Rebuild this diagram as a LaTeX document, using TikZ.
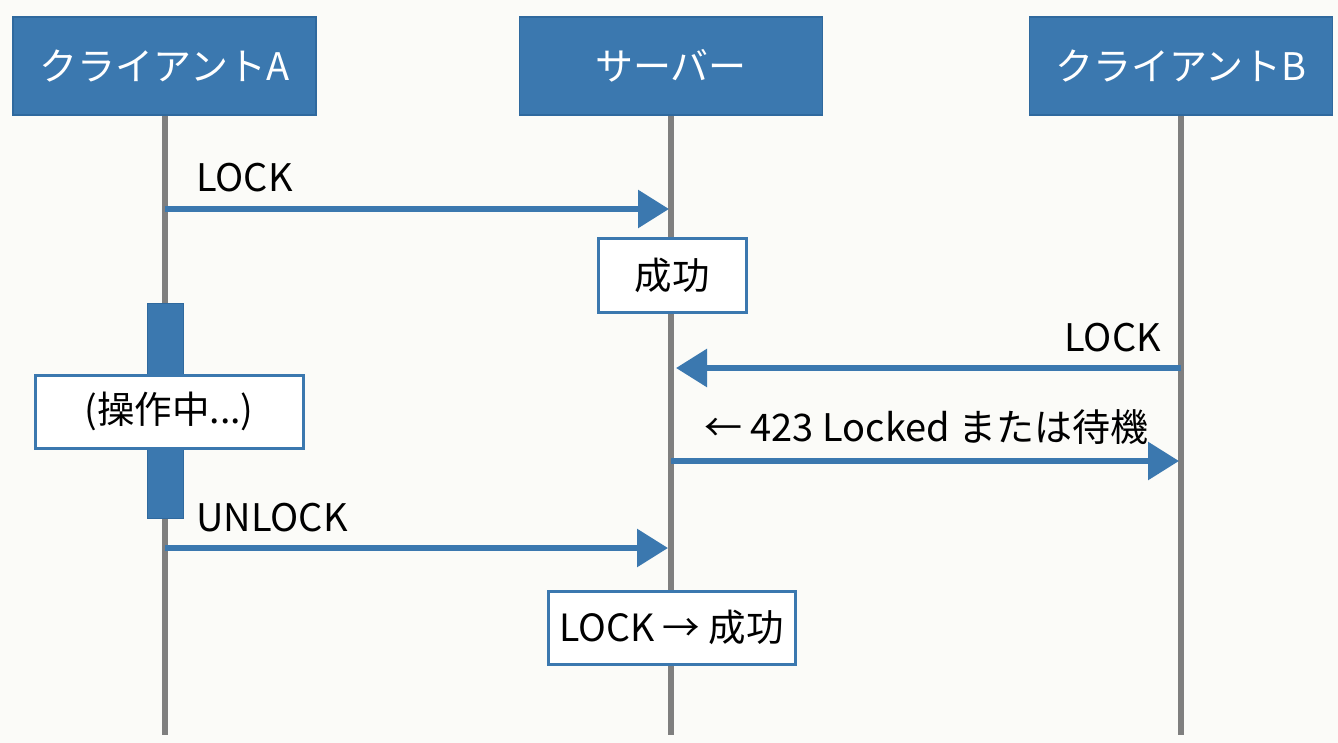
\documentclass[tikz,border=0pt]{standalone}
\usepackage{fontspec}
\setmainfont{Noto Sans CJK JP}
\usetikzlibrary{arrows.meta}
\definecolor{hblue}{HTML}{3B78AF}
\definecolor{hedge}{HTML}{2F699E}
\definecolor{lgray}{HTML}{7F7F7F}
\definecolor{bg}{HTML}{FBFBF8}
\tikzset{
  header/.style={draw=hedge, line width=1.5pt, fill=hblue, text=white, minimum width=303pt, minimum height=98pt, inner sep=0pt, font=\fontsize{38}{44}\selectfont},
  lifeline/.style={draw=lgray, line width=6pt},
  msg/.style={draw=hblue, line width=6pt, -{Triangle[length=31pt,width=37pt]}},
  lbl/.style={font=\fontsize{38}{44}\selectfont, inner sep=0pt},
  notebox/.style={draw=hblue, line width=3pt, fill=white, minimum height=73pt, inner sep=0pt, font=\fontsize{37.5}{44}\selectfont},
  actbar/.style={fill=hblue, draw=hedge, line width=1pt}
}
\begin{document}
\begin{tikzpicture}[x=1pt,y=-1pt]
\fill[bg] (0,0) rectangle (1338,743);
\useasboundingbox (0,0) rectangle (1338,743);
% headers
\node[header] (ha) at (164.5,66) {クライアントA};
\node[header] (hs) at (671,66) {サーバー};
\node[header] (hb) at (1181,66) {クライアントB};
% lifeline ends
\coordinate (ea) at (165,735);
\coordinate (es) at (671,735);
\coordinate (eb) at (1181,735);
\draw[lifeline] (ha.south -| ea) -- (ea);
\draw[lifeline] (hs.south -| es) -- (es);
\draw[lifeline] (hb.south -| eb) -- (eb);
% activation bar
\node[actbar, minimum width=36pt, minimum height=215pt, inner sep=0pt] (bar) at (165.5,410.5) {};
% message points
\coordinate (a1) at (165,209);
\coordinate (s1) at (669,209);
\coordinate (b2) at (1181,368);
\coordinate (s2) at (676,368);
\coordinate (s3) at (671,461);
\coordinate (b3) at (1179,461);
\coordinate (a4) at (165,548);
\coordinate (s4) at (668,548);
\draw[msg] (a1) -- (s1);
\draw[msg] (b2) -- (s2);
\draw[msg] (s3) -- (b3);
\draw[msg] (a4) -- (s4);
% labels
\node[lbl, anchor=base west] (l1) at (196,192) {LOCK};
\node[lbl, anchor=base east] (l2) at (1161,351) {LOCK};
\node[lbl, anchor=base west] (l3) at (704,441) {← 423 Locked または待機};
\node[lbl, anchor=base west] (l4) at (196,531) {UNLOCK};
% note boxes
\node[notebox, minimum width=148pt] (n1) at (672,275.5) {成功};
\node[notebox, minimum width=268pt] (n2) at (169,411.5) {(操作中...)};
\node[notebox, minimum width=247pt] (n3) at (671.5,627.5) {LOCK → 成功};
\end{tikzpicture}
\end{document}
